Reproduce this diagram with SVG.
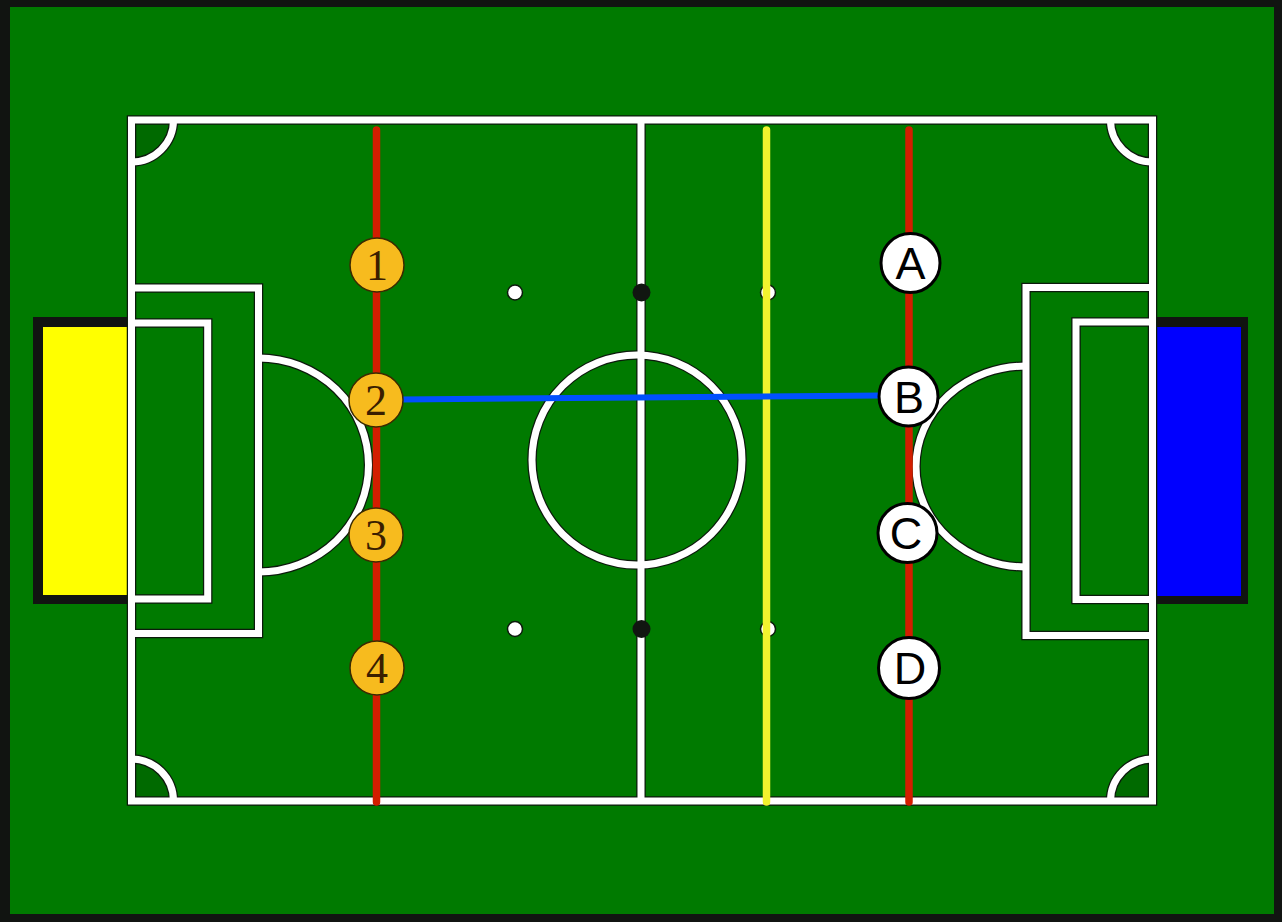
<svg xmlns="http://www.w3.org/2000/svg" width="1282" height="922" viewBox="0 0 1282 922">
<style>
.ol{fill:none;stroke:#0c1a0c;stroke-width:9.5}
.wl{fill:none;stroke:#ffffff;stroke-width:7}
.corner{fill:#006a00}
.rail{stroke-width:7.5;stroke-linecap:round}
.red{stroke:#d21e00}
.yel{stroke:#f2f22e}
.wdot{fill:#ffffff;stroke:#0c1a0c;stroke-width:1.5}
.bdot{fill:#111611}
.pa{fill:#f7bb1e;stroke:#3a2a00;stroke-width:1.5}
.pa-t{font-family:"Liberation Serif",serif;font-size:44px;fill:#3a1e00;text-anchor:middle}
.pb{fill:#ffffff;stroke:#000000;stroke-width:3}
.pb-t{font-family:"Liberation Sans",sans-serif;font-size:45px;fill:#000000;text-anchor:middle}
.link{stroke:#0050ff;stroke-width:6;stroke-linecap:round}
</style>
<defs>
<g id="pitchLines">
<rect x="131.5" y="120" width="1021" height="681"/>
<path d="M641 120 V801"/>
<circle cx="637" cy="460" r="105"/>
<path d="M131.5 288 H258.5 V633.5 H131.5"/>
<path d="M131.5 323 H207.7 V599 H131.5"/>
<path d="M258.5 358 A110 107 0 0 1 258.5 572"/>
<path d="M1152.5 287.5 H1026 V635.5 H1152.5"/>
<path d="M1152.5 322 H1076 V599.5 H1152.5"/>
<path d="M1026 366 A110 100.5 0 0 0 1026 567"/>
<path d="M173.5 120 A42 42 0 0 1 131.5 162"/>
<path d="M1110.5 120 A42 42 0 0 0 1152.5 162"/>
<path d="M131.5 759 A42 42 0 0 1 173.5 801"/>
<path d="M1110.5 801 A42 42 0 0 1 1152.5 759"/>
</g>
</defs>
<!-- frame and grass -->
<rect x="0" y="0" width="1282" height="922" fill="#111411"/>
<rect x="10" y="7" width="1264" height="907" fill="#007a00"/>
<!-- goals -->
<g id="goal-left">
<rect x="33" y="317" width="98" height="287" fill="#111411"/>
<rect x="43" y="327" width="88" height="268" fill="#ffff00"/>
</g>
<g id="goal-right">
<rect x="1152" y="317" width="96" height="287" fill="#111411"/>
<rect x="1152" y="327" width="89" height="269" fill="#0000ff"/>
</g>
<!-- corner fills -->
<path class="corner" d="M131.5 120 H173.5 A42 42 0 0 1 131.5 162 Z"/>
<path class="corner" d="M131.5 801 V759 A42 42 0 0 1 173.5 801 Z"/>
<path class="corner" d="M1152.5 801 H1110.5 A42 42 0 0 1 1152.5 759 Z"/>
<!-- pitch markings -->
<use href="#pitchLines" class="ol"/>
<use href="#pitchLines" class="wl"/>
<!-- spots -->
<circle class="wdot" cx="515" cy="292.5" r="7.5"/>
<circle class="wdot" cx="515" cy="629" r="7.5"/>
<circle class="wdot" cx="768" cy="292.5" r="7.5"/>
<circle class="wdot" cx="768" cy="629" r="7.5"/>
<circle class="bdot" cx="641.5" cy="292.5" r="9"/>
<circle class="bdot" cx="641.5" cy="629" r="9"/>
<!-- rods -->
<line class="rail red" x1="376.5" y1="130" x2="376.5" y2="802"/>
<line class="rail yel" x1="766.5" y1="130" x2="766.5" y2="802"/>
<line class="rail red" x1="909" y1="130" x2="909" y2="802"/>
<!-- connectors -->
<g id="connectors">
<line class="link" x1="401" y1="399.5" x2="882" y2="395.5"/>
</g>
<!-- players -->
<g id="player-1"><circle class="pa" cx="377" cy="265" r="27"/><text class="pa-t" x="377" y="280">1</text></g>
<g id="player-2"><circle class="pa" cx="376" cy="400" r="27"/><text class="pa-t" x="376" y="415">2</text></g>
<g id="player-3"><circle class="pa" cx="376" cy="535" r="27"/><text class="pa-t" x="376" y="550">3</text></g>
<g id="player-4"><circle class="pa" cx="377" cy="668" r="27"/><text class="pa-t" x="377" y="683">4</text></g>
<g id="player-A"><circle class="pb" cx="910.5" cy="263" r="29.5"/><text class="pb-t" x="910.5" y="279">A</text></g>
<g id="player-B"><circle class="pb" cx="908.5" cy="396.5" r="29.5"/><text class="pb-t" x="909" y="413">B</text></g>
<g id="player-C"><circle class="pb" cx="907.5" cy="533" r="29.5"/><text class="pb-t" x="906" y="549">C</text></g>
<g id="player-D"><circle class="pb" cx="909" cy="668" r="30.5"/><text class="pb-t" x="910" y="684">D</text></g>
</svg>
